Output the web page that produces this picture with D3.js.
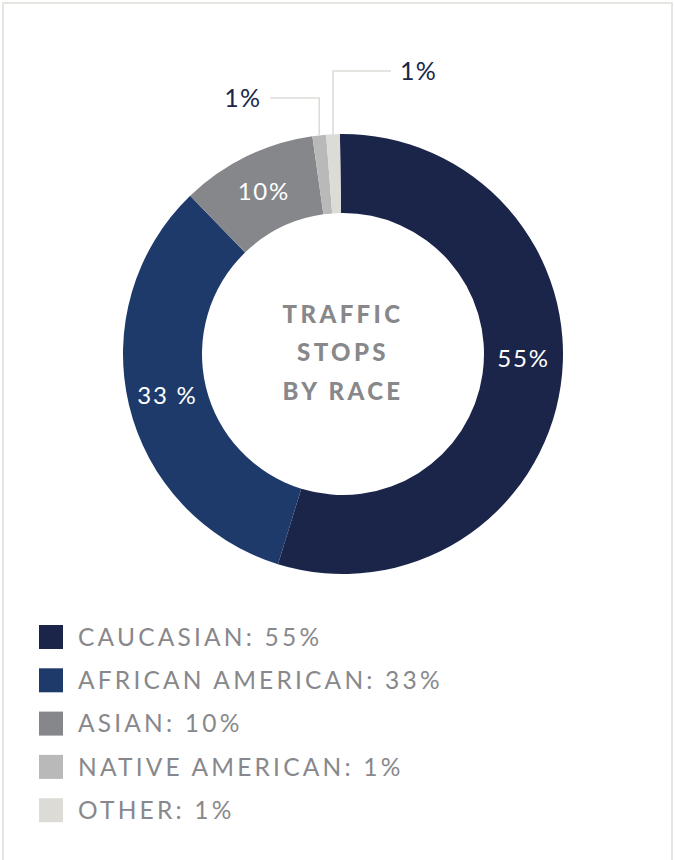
<!DOCTYPE html>
<html>
<head>
  <meta charset="utf-8" />
  <title>Traffic Stops by Race</title>
  <script src="https://cdn.jsdelivr.net/npm/d3@7"></script>
  <style>
    body { margin: 0; background: #fff; }
    text { font-family: Lato, "Open Sans", sans-serif; }
  </style>
</head>
<body>
  <div id="chart"></div>
  <script>
    // data
    const races = ["CAUCASIAN", "AFRICAN AMERICAN", "ASIAN", "NATIVE AMERICAN", "OTHER"];
    const shares = [55, 33, 10, 1, 1];
    const sliceLabels = ["55%", "33 %", "10%", "1%", "1%"];
    const colors = ["#1b2549", "#1e3a6b", "#86878b", "#b9b9b9", "#dcdbd6"];
    const titleLines = ["TRAFFIC", "STOPS", "BY RACE"];

    const width = 675, height = 860;
    const cx = 343, cy = 354;
    const outerR = 220, innerR = 141;

    const svg = d3.select("#chart").append("svg")
      .attr("width", width)
      .attr("height", height);

    // card border
    svg.append("rect")
      .attr("x", 3).attr("y", 3)
      .attr("width", 669).attr("height", 900)
      .attr("fill", "#fff")
      .attr("stroke", "#e6e5e0")
      .attr("stroke-width", 2);

    const data = races.map((r, i) => ({ race: r, value: shares[i], label: sliceLabels[i], color: colors[i] }));

    const pie = d3.pie()
      .value(d => d.value)
      .sort(null)
      .startAngle(-0.014)
      .endAngle(2 * Math.PI - 0.014);

    const arcs = pie(data);
    const arc = d3.arc().innerRadius(innerR).outerRadius(outerR);

    const g = svg.append("g").attr("transform", `translate(${cx},${cy})`);

    g.selectAll("path.slice")
      .data(arcs)
      .join("path")
      .attr("class", "slice")
      .attr("d", arc)
      .attr("fill", d => d.data.color);

    // labels inside the big slices
    const big = arcs.filter(d => d.data.value >= 5);
    g.selectAll("text.inside")
      .data(big)
      .join("text")
      .attr("class", "inside")
      .attr("transform", (d, i) => {
        let a = (d.startAngle + d.endAngle) / 2;
        if (i === 0) a = d.startAngle + (d.endAngle - d.startAngle) * 0.465; // biggest slice label sits a bit higher
        const r = (innerR + outerR) / 2;
        return `translate(${r * Math.sin(a)},${-r * Math.cos(a)})`;
      })
      .attr("text-anchor", "middle")
      .attr("dy", "0.36em")
      .attr("fill", "#fff")
      .attr("font-size", 24)
      .attr("letter-spacing", 1.8)
      .text(d => d.data.label);

    // callouts for the thin slices
    const small = arcs.filter(d => d.data.value < 5);
    const rise = [36, 63];     // how far above the ring the elbow goes
    const run = [-49, 58];     // horizontal leg
    small.forEach((d, i) => {
      const a = (d.startAngle + d.endAngle) / 2;
      const x0 = outerR * Math.sin(a), y0 = -outerR * Math.cos(a);
      const y1 = -outerR - rise[i];
      const x2 = x0 + run[i];
      g.append("polyline")
        .attr("points", `${x0},${y0} ${x0},${y1} ${x2},${y1}`)
        .attr("fill", "none")
        .attr("stroke", "#dcdbd6")
        .attr("stroke-width", 1.5);
      g.append("text")
        .attr("x", x2 + (run[i] < 0 ? -9 : 9))
        .attr("y", y1)
        .attr("dy", "0.36em")
        .attr("text-anchor", run[i] < 0 ? "end" : "start")
        .attr("fill", "#1b2549")
        .attr("font-size", 25)
        .attr("letter-spacing", 1.2)
        .text(d.data.label);
    });

    // centre title
    g.selectAll("text.title")
      .data(titleLines)
      .join("text")
      .attr("class", "title")
      .attr("x", 0)
      .attr("y", (d, i) => -40 + i * 38.5)
      .attr("dy", "0.36em")
      .attr("text-anchor", "middle")
      .attr("fill", "#88888b")
      .attr("font-size", 24)
      .attr("font-weight", 900)
      .attr("letter-spacing", 3.4)
      .text(d => d);

    // legend
    const legend = svg.append("g").attr("transform", "translate(39,625)");
    const rows = legend.selectAll("g")
      .data(data)
      .join("g")
      .attr("transform", (d, i) => `translate(0,${i * 43.3})`);
    rows.append("rect")
      .attr("width", 24).attr("height", 24)
      .attr("fill", d => d.color);
    rows.append("text")
      .attr("x", 39)
      .attr("y", 12)
      .attr("dy", "0.36em")
      .attr("fill", "#88888c")
      .attr("font-size", 24.5)
      .attr("letter-spacing", 3.2)
      .text(d => `${d.race}: ${d.value}%`);
  </script>
</body>
</html>
